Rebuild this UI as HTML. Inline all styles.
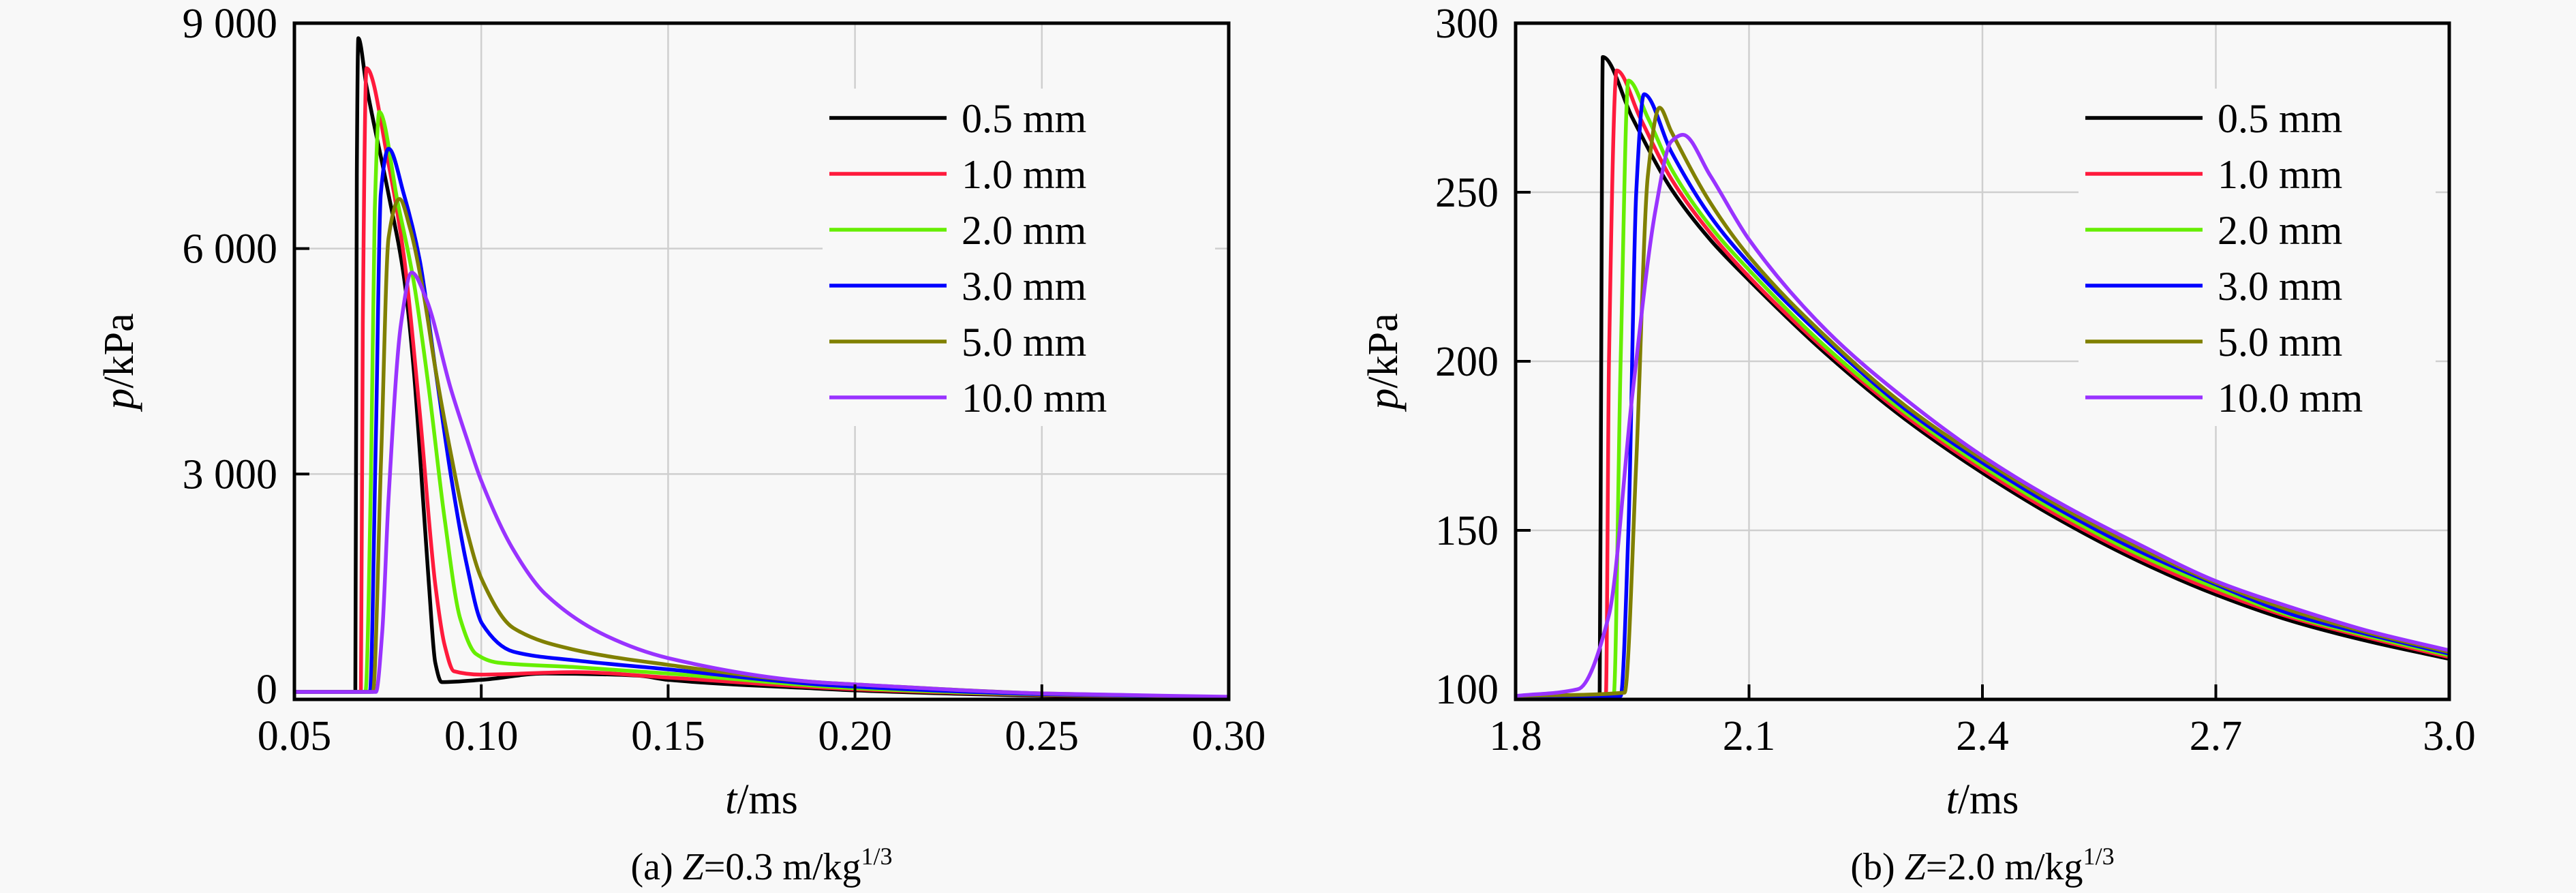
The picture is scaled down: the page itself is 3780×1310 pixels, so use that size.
<!DOCTYPE html>
<html><head><meta charset="utf-8">
<style>
html,body{margin:0;padding:0;background:#f8f8f8;}
svg{display:block;}
svg text{font-family:"Liberation Serif","Times New Roman",serif;}
</style></head>
<body>
<svg id="fig" width="3780" height="1310" viewBox="0 0 3780 1310">
<rect x="0" y="0" width="3780" height="1310" fill="#f8f8f8"/>
</svg>
<script>
// ---------- data ----------
const seriesNames = ["0.5 mm","1.0 mm","2.0 mm","3.0 mm","5.0 mm","10.0 mm"];
const seriesColors = ["#000000","#ff1a3c","#66ee00","#0000ff","#808000","#9933ff"];

const aXTicks = [0.05,0.10,0.15,0.20,0.25,0.30];
const aXTickLabels = ["0.05","0.10","0.15","0.20","0.25","0.30"];
const aYTicks = [0,3000,6000,9000];
const aYTickLabels = ["0","3 000","6 000","9 000"];

const aBlack = [[0.05,100],[0.0663,100],[0.0667,7000],[0.0671,8800],[0.0693,8160],[0.0752,6720],[0.0793,5625],[0.0819,4410],[0.0844,2680],[0.086,1530],[0.0877,490],[0.0894,230],[0.100,260],[0.117,345],[0.142,317],[0.15,260],[0.19,144],[0.20,120],[0.25,50],[0.30,20]];
const aRed = [[0.05,100],[0.0678,100],[0.0683,5000],[0.0693,8400],[0.0752,7125],[0.0793,5900],[0.0835,3840],[0.0877,1530],[0.0902,720],[0.0927,375],[0.100,330],[0.125,363],[0.15,290],[0.19,160],[0.20,135],[0.25,60],[0.30,25]];
const aGreen = [[0.05,100],[0.069,100],[0.0705,3000],[0.0715,6500],[0.0727,7820],[0.0777,6600],[0.0819,5570],[0.086,4125],[0.0902,2400],[0.0944,1070],[0.0986,605],[0.1044,490],[0.125,430],[0.15,345],[0.19,180],[0.20,150],[0.25,65],[0.30,30]];
const aBlue = [[0.05,100],[0.0702,100],[0.0718,3500],[0.0731,6720],[0.0752,7330],[0.0793,6720],[0.0835,5855],[0.0877,4410],[0.0919,2970],[0.096,1820],[0.1002,1010],[0.1086,635],[0.125,520],[0.15,400],[0.19,200],[0.20,170],[0.25,70],[0.30,30]];
const aOlive = [[0.05,100],[0.071,100],[0.0732,3200],[0.0752,6145],[0.0781,6660],[0.081,6260],[0.0844,5450],[0.0877,4410],[0.0919,3260],[0.096,2280],[0.1002,1590],[0.1086,950],[0.125,660],[0.15,460],[0.1895,230],[0.20,200],[0.25,80],[0.30,30]];
const aPurple = [[0.05,100],[0.0718,100],[0.0735,900],[0.0752,2680],[0.0785,4990],[0.0814,5680],[0.0852,5340],[0.0919,4125],[0.096,3490],[0.100,2910],[0.1086,1990],[0.117,1410],[0.1337,840],[0.15,550],[0.1895,230],[0.20,200],[0.25,80],[0.30,35]];

const bXTicks = [1.8,2.1,2.4,2.7,3.0];
const bXTickLabels = ["1.8","2.1","2.4","2.7","3.0"];
const bYTicks = [100,150,200,250,300];
const bYTickLabels = ["100","150","200","250","300"];

const bBlack = [[1.8,101],[1.908,101],[1.910,200],[1.912,290],[1.95,272],[2.0,251],[2.05,236],[2.1,224],[2.2,202],[2.3,183],[2.4,167],[2.5,153],[2.6,141],[2.7,131],[2.8,123],[2.9,117],[3.0,112]];
const bRed = [[1.8,101],[1.916,101],[1.920,200],[1.93,286],[1.96,272],[2.0,254],[2.05,238],[2.1,225],[2.2,203],[2.3,184],[2.4,168],[2.5,154],[2.6,142],[2.7,132],[2.8,124],[2.9,118],[3.0,112.5]];
const bGreen = [[1.8,101],[1.926,101],[1.935,200],[1.945,283],[1.97,272],[2.0,257],[2.05,240],[2.1,227],[2.2,204],[2.3,185],[2.4,169],[2.5,155],[2.6,143],[2.7,133],[2.8,124.5],[2.9,118.5],[3.0,113]];
const bBlue = [[1.8,101],[1.935,101],[1.945,150],[1.955,250],[1.965,279],[2.0,262],[2.05,243],[2.1,229],[2.2,206],[2.3,186],[2.4,170],[2.5,156],[2.6,144],[2.7,134],[2.8,125],[2.9,119],[3.0,113.5]];
const bOlive = [[1.8,101],[1.94,102],[1.955,170],[1.97,255],[1.985,275],[2.0,268],[2.05,247],[2.1,231],[2.2,207],[2.3,187],[2.4,171],[2.5,157],[2.6,145],[2.7,134.5],[2.8,126],[2.9,119.5],[3.0,114]];
const bPurple = [[1.8,101],[1.88,103],[1.92,125],[1.95,190],[1.98,245],[2.0,265],[2.015,267],[2.05,255],[2.1,236],[2.2,209],[2.3,189],[2.4,172],[2.5,158],[2.6,146],[2.7,135],[2.8,127],[2.9,120],[3.0,114.5]];

const aSeries = [aBlack,aRed,aGreen,aBlue,aOlive,aPurple];
const bSeries = [bBlack,bRed,bGreen,bBlue,bOlive,bPurple];

// ---------- drawing ----------
const NS = "http://www.w3.org/2000/svg";
const svg = document.getElementById("fig");
const FONT = '"Liberation Serif", "Times New Roman", serif';
function mk(tag, attrs, parent, text){
  const e = document.createElementNS(NS, tag);
  for (const k in attrs) e.setAttribute(k, attrs[k]);
  if (tag === "text") e.setAttribute("font-family", FONT);
  if (text !== undefined) e.textContent = text;
  (parent||svg).appendChild(e);
  return e;
}

// monotone cubic (Fritsch-Carlson) path through pixel points
function monoPath(pts){
  const n = pts.length;
  const dx=[], dy=[], m=[];
  for (let i=0;i<n-1;i++){ dx[i]=pts[i+1][0]-pts[i][0]; dy[i]=pts[i+1][1]-pts[i][1]; m[i]=dy[i]/dx[i]; }
  const t=[m[0]];
  for (let i=1;i<n-1;i++){
    if (m[i-1]*m[i] <= 0) t[i]=0;
    else { const w1=2*dx[i]+dx[i-1], w2=dx[i]+2*dx[i-1]; t[i]=(w1+w2)/(w1/m[i-1]+w2/m[i]); }
  }
  t[n-1]=m[n-2];
  let d = "M"+pts[0][0].toFixed(1)+" "+pts[0][1].toFixed(1);
  for (let i=0;i<n-1;i++){
    const h=dx[i];
    const c1x=pts[i][0]+h/3, c1y=pts[i][1]+t[i]*h/3;
    const c2x=pts[i+1][0]-h/3, c2y=pts[i+1][1]-t[i+1]*h/3;
    d += " C"+c1x.toFixed(1)+" "+c1y.toFixed(1)+" "+c2x.toFixed(1)+" "+c2y.toFixed(1)+" "+pts[i+1][0].toFixed(1)+" "+pts[i+1][1].toFixed(1);
  }
  return d;
}

function drawPanel(cfg){
  const g = mk("g", {});
  
  
  const L=cfg.left, R=cfg.right, T=34, B=1026;
  const sx = v => L + (v - cfg.xmin)/(cfg.xmax - cfg.xmin)*(R-L);
  const sy = v => B - (v - cfg.ymin)/(cfg.ymax - cfg.ymin)*(B-T);

  cfg.xTicks.forEach((t,i)=>{
    if (i===0 || i===cfg.xTicks.length-1) return;
    const l = mk("line",{x1:sx(t),x2:sx(t),y1:T,y2:B,stroke:"#cfcfcf","stroke-width":2.5},g);
    
    
  });
  cfg.yTicks.forEach((t,i)=>{
    if (i===0 || i===cfg.yTicks.length-1) return;
    const l = mk("line",{x1:L,x2:R,y1:sy(t),y2:sy(t),stroke:"#cfcfcf","stroke-width":2.5},g);
    
    
  });

  cfg.series.forEach((s,k)=>{
    const d = monoPath(s.map(p=>[sx(p[0]), sy(p[1])]));
    const p = mk("path",{d:d,fill:"none",stroke:seriesColors[k],"stroke-width":5.5,"stroke-linejoin":"round"},g);
    
    
  });

  const lg = mk("g",{},g);
  
  
  mk("rect",{x:cfg.legX-10,y:130,width:R-cfg.legX-10,height:495,fill:"#f8f8f8"},lg);
  seriesNames.forEach((n,k)=>{
    const y = 173 + k*82;
    const e = mk("g",{},lg);
    
    
    mk("line",{x1:cfg.legX,x2:cfg.legX+172,y1:y,y2:y,stroke:seriesColors[k],"stroke-width":5.5},e);
    mk("text",{x:cfg.legX+194,y:y+21,"font-size":60,fill:"#000"},e,n);
  });

  const f = mk("rect",{x:L,y:T,width:R-L,height:B-T,fill:"none",stroke:"#000","stroke-width":5},g);
  
  

  cfg.xTicks.forEach((t,i)=>{
    mk("line",{x1:sx(t),x2:sx(t),y1:B,y2:B-22,stroke:"#000","stroke-width":4},g);
    const tl = mk("text",{x:sx(t),y:1100,"font-size":62,"text-anchor":"middle"},g,cfg.xLabels[i]);
    
    
  });
  cfg.yTicks.forEach((t,i)=>{
    mk("line",{x1:L,x2:L+22,y1:sy(t),y2:sy(t),stroke:"#000","stroke-width":4},g);
    const ty = i===0 ? sy(t)+6 : sy(t)+21;
    const tl = mk("text",{x:L-25,y:ty,"font-size":62,"text-anchor":"end"},g,cfg.yLabels[i]);
    
    
  });

  const xt = mk("text",{x:(L+R)/2,y:1193,"font-size":62,"text-anchor":"middle"},g);
  
  
  mk("tspan",{"font-style":"italic"},xt,"t");
  mk("tspan",{},xt,"/ms");

  const yt = mk("text",{x:0,y:0,"font-size":62,"text-anchor":"middle",transform:"translate("+(cfg.yTitleX)+",530) rotate(-90)"},g);
  
  
  mk("tspan",{"font-style":"italic"},yt,"p");
  mk("tspan",{},yt,"/kPa");

  const cap = mk("text",{x:(L+R)/2,y:1290,"font-size":56,"text-anchor":"middle"},g);
  
  
  mk("tspan",{},cap,cfg.capPre);
  mk("tspan",{"font-style":"italic"},cap,"Z");
  mk("tspan",{},cap,cfg.capMid);
  mk("tspan",{"font-size":36,dy:-22},cap,"1/3");
}

drawPanel({id:"panel-a",left:432,right:1803,xmin:0.05,xmax:0.30,ymin:0,ymax:9000,
  xTicks:aXTicks,xLabels:aXTickLabels,yTicks:aYTicks,yLabels:aYTickLabels,
  series:aSeries,legX:1217,yTitleX:195,capPre:"(a) ",capMid:"=0.3 m/kg"});
drawPanel({id:"panel-b",left:2224,right:3594,xmin:1.8,xmax:3.0,ymin:100,ymax:300,
  xTicks:bXTicks,xLabels:bXTickLabels,yTicks:bYTicks,yLabels:bYTickLabels,
  series:bSeries,legX:3060,yTitleX:2050,capPre:"(b) ",capMid:"=2.0 m/kg"});
</script>
</body></html>
